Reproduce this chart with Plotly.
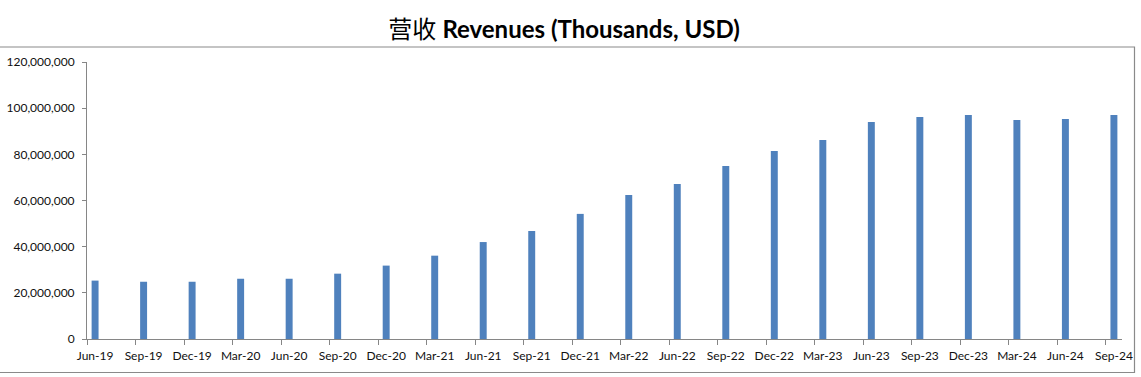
import plotly.graph_objects as go

labels = ["Jun-19", "Sep-19", "Dec-19", "Mar-20", "Jun-20", "Sep-20", "Dec-20", "Mar-21",
          "Jun-21", "Sep-21", "Dec-21", "Mar-22", "Jun-22", "Sep-22", "Dec-22", "Mar-23",
          "Jun-23", "Sep-23", "Dec-23", "Mar-24", "Jun-24", "Sep-24"]
revenues = [25.3e6, 24.8e6, 24.8e6, 26.1e6, 26.1e6, 28.3e6, 31.8e6, 36.1e6,
            42.0e6, 46.8e6, 54.2e6, 62.4e6, 67.1e6, 74.9e6, 81.4e6, 86.2e6,
            94.0e6, 96.2e6, 97.0e6, 94.9e6, 95.3e6, 97.0e6]
y_ticks = [0, 20e6, 40e6, 60e6, 80e6, 100e6, 120e6]

# Excel-style date axis: monthly base unit, quarterly data; each bar sits in the middle of its month slot
months_per_label = 3
n_months = months_per_label * (len(labels) - 1) + 1
bar_x = [months_per_label * i + 0.5 for i in range(len(labels))]
tick_x = [months_per_label * i for i in range(len(labels))]

fig = go.Figure()
fig.add_trace(go.Bar(
    x=bar_x, y=revenues, width=0.43,
    marker=dict(color="#4F81BD", line=dict(width=0)),
    hovertemplate="%{text}: %{y:,.0f}<extra></extra>", text=labels, textposition="none",
))

axis_color = "#868686"
font_fam = "Lato, 'Liberation Sans', sans-serif"

W, H = 1141, 377
L, R, T, B = 87, 19, 62, 38
pw, ph = W - L - R, H - T - B
frame_color = "#8a8a8a"

fig.update_layout(
    width=W, height=H,
    margin=dict(l=L, r=R, t=T, b=B, autoexpand=False),
    paper_bgcolor="white", plot_bgcolor="white",
    showlegend=False,
    title=dict(
        text="营收 <b>Revenues (Thousands, USD)</b>",
        font=dict(family="Lato, 'Noto Sans CJK SC', sans-serif", size=24, color="#000000"),
        x=564 / W, xanchor="center", y=1 - 30 / H, yanchor="middle", yref="container",
        automargin=False,
    ),
    xaxis=dict(
        range=[0, n_months], tickmode="array", tickvals=bar_x, ticktext=labels,
        ticks="", showgrid=False, zeroline=False, automargin=False,
        ticklabelstandoff=6,
        showline=True, linecolor=axis_color, linewidth=1,
        tickfont=dict(family=font_fam, size=12, color="#111111"),
        minor=dict(tickmode="array", tickvals=tick_x, ticks="outside", ticklen=5,
                   tickcolor=axis_color, tickwidth=1, showgrid=False),
        fixedrange=True,
    ),
    yaxis=dict(
        range=[0, 120e6], tickmode="array", tickvals=y_ticks,
        ticktext=[f"{v:,.0f}" for v in y_ticks],
        ticks="outside", ticklen=4, tickcolor=axis_color,
        ticklabelstandoff=5,
        showgrid=False, zeroline=False, automargin=False,
        showline=True, linecolor=axis_color, linewidth=1,
        tickfont=dict(family=font_fam, size=12, color="#111111"),
        fixedrange=True,
    ),
    shapes=[
        # chart frame (left edge lies just outside the picture)
        dict(type="rect", xref="paper", yref="paper",
             x0=(-2 - L) / pw, x1=(1134.5 - L) / pw,
             y0=(H - B - 372.5) / ph, y1=(H - B - 47) / ph,
             line=dict(color=frame_color, width=1.2), fillcolor="rgba(0,0,0,0)", layer="above"),
    ],
)

fig.write_html(
    "out.html",
    config={"displayModeBar": False},
    post_script="document.body.style.margin='0';document.body.style.overflow='hidden';",
)
